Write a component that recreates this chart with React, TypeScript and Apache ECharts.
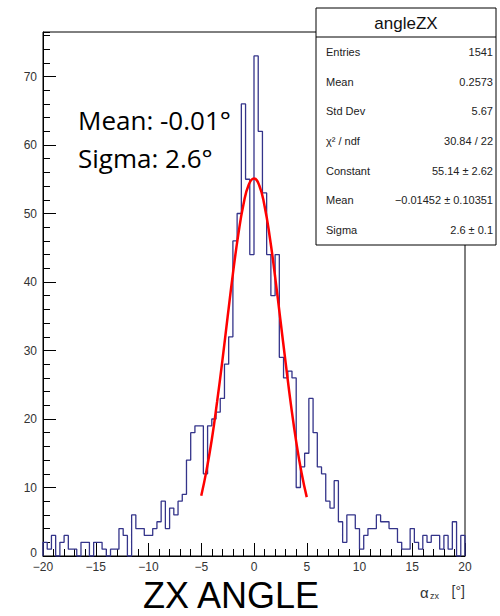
import React, { useEffect, useRef } from 'react';
import * as echarts from 'echarts';

// Histogram: 100 bins of width 0.4 from -20 to 20
const BIN_LOW = -20;
const BIN_HIGH = 20;
const BIN_WIDTH = 0.4;
const COUNTS = [
  2, 1, 3, 0, 2, 3, 1, 1, 0, 2,
  2, 0, 2, 2, 1, 0, 1, 1, 4, 3,
  0, 6, 4, 4, 3, 3, 4, 5, 8, 4,
  7, 6, 8, 9, 14, 18, 19, 19, 12, 19,
  20, 21, 23, 28, 32, 46, 50, 66, 55, 44,
  73, 62, 53, 44, 38, 44, 29, 26, 27, 26,
  10, 13, 15, 23, 18, 13, 12, 8, 7, 11,
  5, 2, 6, 6, 4, 1, 3, 4, 4, 6,
  5, 5, 4, 4, 2, 1, 1, 4, 2, 1,
  3, 2, 3, 3, 1, 3, 1, 5, 0, 3,
];

// Gaussian fit curve
const FIT_X = [-5, -4.5, -4, -3.5, -3, -2.5, -2, -1.5, -1, -0.5, 0, 0.5, 1, 1.5, 2, 2.5, 3, 3.5, 4, 4.5, 5];
const FIT_Y = [8.8, 12.5, 17.0, 22.5, 28.5, 34.9, 41.2, 46.8, 51.3, 54.2, 55.1, 54.1, 51.1, 46.5, 40.8, 34.5, 28.2, 22.1, 16.7, 12.2, 8.6];

const Y_MAX = 76.5;

const STATS_TITLE = 'angleZX';
const STATS_LABELS = ['Entries', 'Mean', 'Std Dev', 'χ² / ndf', 'Constant', 'Mean', 'Sigma'];
const STATS_VALUES = ['1541', '0.2573', '5.67', '30.84 / 22', '55.14 ± 2.62', '−0.01452 ± 0.10351', '2.6 ± 0.1'];

const NOTE_LINES = ['Mean: -0.01°', 'Sigma: 2.6°'];
const CAPTION = 'ZX ANGLE';

const AXIS_FONT = 'Liberation Sans';
const AXIS_COLOR = '#333';

export default function App() {
  const ref = useRef<HTMLDivElement>(null);

  useEffect(() => {
    const chart = echarts.init(ref.current!, null, { renderer: 'svg' });

    const histData: number[][] = [[BIN_LOW, 0]];
    COUNTS.forEach((c, i) => histData.push([BIN_LOW + i * BIN_WIDTH, c]));
    histData.push([BIN_HIGH, COUNTS[COUNTS.length - 1]]);
    histData.push([BIN_HIGH, 0]);

    const fitData = FIT_X.map((x, i) => [x, FIT_Y[i]]);

    const boxX = 316, boxY = 8, boxW = 180, boxH = 237, titleH = 29;
    const rowH = (boxH - titleH) / STATS_LABELS.length;

    const statsGraphics: any[] = [
      {
        type: 'rect', z: 100,
        shape: { x: boxX, y: boxY, width: boxW, height: boxH },
        style: { fill: '#fff', stroke: '#000', lineWidth: 1 },
      },
      {
        type: 'line', z: 101,
        shape: { x1: boxX, y1: boxY + titleH, x2: boxX + boxW, y2: boxY + titleH },
        style: { stroke: '#000', lineWidth: 1 },
      },
      {
        type: 'text', z: 101,
        style: {
          text: STATS_TITLE, x: boxX + boxW / 2, y: boxY + titleH / 2 + 1,
          textAlign: 'center', textVerticalAlign: 'middle',
          font: `17px "${AXIS_FONT}"`, fill: '#111',
        },
      },
    ];
    STATS_LABELS.forEach((lab, i) => {
      const cy = boxY + titleH + rowH * (i + 0.5);
      statsGraphics.push({
        type: 'text', z: 101,
        style: {
          text: lab, x: boxX + 10, y: cy, textAlign: 'left', textVerticalAlign: 'middle',
          font: `11px "${AXIS_FONT}"`, fill: '#222',
        },
      });
      statsGraphics.push({
        type: 'text', z: 101,
        style: {
          text: STATS_VALUES[i], x: boxX + boxW - 3, y: cy, textAlign: 'right', textVerticalAlign: 'middle',
          font: `11px "${AXIS_FONT}"`, fill: '#222',
        },
      });
    });

    const option: any = {
      animation: false,
      backgroundColor: '#fff',
      grid: {
        left: 43, right: 35, top: 32, bottom: 60,
        show: true, borderColor: '#000', borderWidth: 1, backgroundColor: 'transparent',
      },
      xAxis: {
        type: 'value', min: BIN_LOW, max: BIN_HIGH, interval: 5,
        axisLine: { show: true, onZero: false, lineStyle: { color: '#000', width: 1 } },
        axisTick: { show: true, inside: true, length: 13, lineStyle: { color: '#000', width: 1 } },
        minorTick: { show: true, splitNumber: 5, length: 7, lineStyle: { color: '#000', width: 1 } },
        splitLine: { show: false },
        axisLabel: {
          color: AXIS_COLOR, fontSize: 12, fontFamily: AXIS_FONT, margin: 5,
          formatter: (v: number) => String(v).replace('-', '−'),
        },
      },
      yAxis: [
        {
          type: 'value', min: 0, max: Y_MAX, interval: 10, position: 'left',
          axisLine: { show: true, onZero: false, lineStyle: { color: '#000', width: 1 } },
          axisTick: { show: true, inside: true, length: 13, lineStyle: { color: '#000', width: 1 } },
          splitLine: { show: false },
          axisLabel: {
            color: AXIS_COLOR, fontSize: 12, fontFamily: AXIS_FONT, margin: 6, showMaxLabel: false,
            formatter: (v: number) => (v === 0 ? '{z|0}' : String(v)),
            rich: { z: { color: AXIS_COLOR, fontSize: 12, fontFamily: AXIS_FONT, padding: [0, 0, 7, 0] } },
          },
        },
        {
          type: 'value', min: 0, max: Y_MAX, interval: 2, position: 'left', offset: 0,
          axisLine: { show: false, onZero: false },
          axisTick: { show: true, inside: true, length: 7, lineStyle: { color: '#000', width: 1 } },
          splitLine: { show: false },
          axisLabel: { show: false },
        },
      ],
      series: [
        {
          type: 'line', data: histData, step: 'end', showSymbol: false, symbol: 'none',
          yAxisIndex: 0, z: 2,
          lineStyle: { color: '#34348a', width: 1.3 },
        },
        {
          type: 'line', data: fitData, smooth: true, showSymbol: false, symbol: 'none',
          yAxisIndex: 0, z: 3,
          lineStyle: { color: '#ff0000', width: 2.5 },
        },
      ],
      graphic: [
        ...statsGraphics,
        {
          type: 'text', z: 50,
          style: {
            text: NOTE_LINES[0], x: 78, y: 120, textAlign: 'left', textVerticalAlign: 'middle',
            font: '26px "Open Sans"', fill: '#000',
          },
        },
        {
          type: 'text', z: 50,
          style: {
            text: NOTE_LINES[1], x: 78, y: 158, textAlign: 'left', textVerticalAlign: 'middle',
            font: '26px "Open Sans"', fill: '#000',
          },
        },
        {
          type: 'text', z: 50,
          style: {
            text: CAPTION, x: 231, y: 595.5, textAlign: 'center', textVerticalAlign: 'middle',
            font: '36px "Liberation Sans"', fill: '#000',
          },
        },
        {
          type: 'text', z: 50,
          style: {
            text: 'α', x: 420, y: 592, textAlign: 'left', textVerticalAlign: 'middle',
            font: `15px "${AXIS_FONT}"`, fill: AXIS_COLOR,
          },
        },
        {
          type: 'text', z: 50,
          style: {
            text: 'zx', x: 430, y: 596, textAlign: 'left', textVerticalAlign: 'middle',
            font: `9px "${AXIS_FONT}"`, fill: AXIS_COLOR,
          },
        },
        {
          type: 'text', z: 50,
          style: {
            text: '[°]', x: 465, y: 591, textAlign: 'right', textVerticalAlign: 'middle',
            font: `14px "${AXIS_FONT}"`, fill: AXIS_COLOR,
          },
        },
      ],
    };

    chart.setOption(option);
    return () => chart.dispose();
  }, []);

  return (
    <div
      ref={ref}
      style={{ position: 'absolute', left: 0, top: 0, width: 500, height: 616, background: '#fff' }}
    />
  );
}
